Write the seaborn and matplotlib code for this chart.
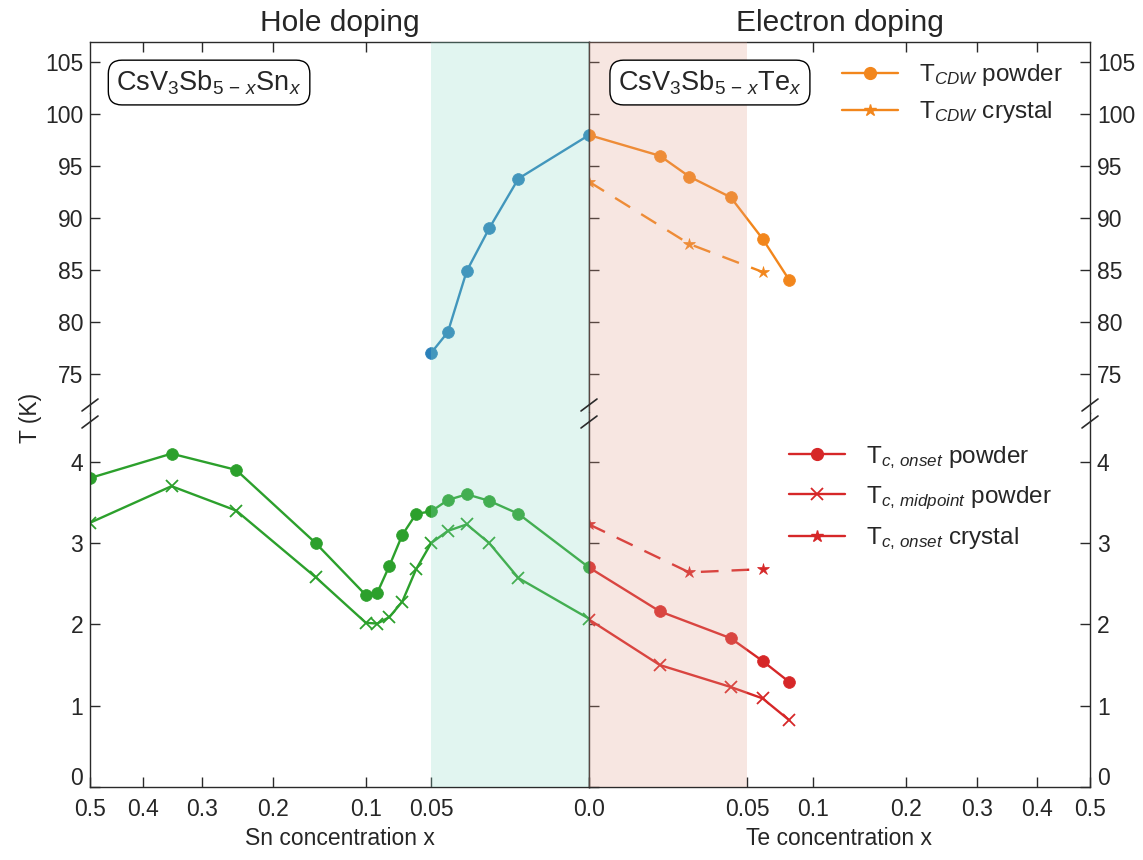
import numpy as np
import matplotlib
matplotlib.use("Agg")
import matplotlib.pyplot as plt
import matplotlib.transforms as mtransforms
import seaborn as sns
from matplotlib.lines import Line2D

# Hole doping (Sn)
sn_cdw_x = [0.05, 0.04, 0.03, 0.02, 0.01, 0.0]
sn_cdw_t = [77.0, 79.0, 84.9, 89.0, 93.8, 98.0]
sn_tc_x = [0.5, 0.35, 0.25, 0.15, 0.10, 0.09, 0.08, 0.07, 0.06, 0.05, 0.04, 0.03, 0.02, 0.01, 0.0]
sn_onset = [3.80, 4.10, 3.90, 3.00, 2.36, 2.39, 2.72, 3.10, 3.36, 3.39, 3.53, 3.60, 3.52, 3.36, 2.70]
sn_mid = [3.25, 3.70, 3.40, 2.58, 2.02, 2.01, 2.09, 2.28, 2.68, 3.00, 3.15, 3.23, 3.00, 2.57, 2.07]

# Electron doping (Te)
te_cdw_powder_x = [0.0, 0.01, 0.02, 0.04, 0.06, 0.08]
te_cdw_powder_t = [98.0, 96.0, 94.0, 92.0, 88.0, 84.0]
te_cdw_crystal_x = [0.0, 0.02, 0.06]
te_cdw_crystal_t = [93.5, 87.5, 84.8]
te_tc_x = [0.0, 0.01, 0.04, 0.06, 0.08]
te_onset = [2.70, 2.16, 1.83, 1.55, 1.29]
te_mid = [2.06, 1.50, 1.23, 1.09, 0.82]
te_crystal_x = [0.0, 0.02, 0.06]
te_crystal_onset = [3.23, 2.64, 2.68]

top_ticks = [75, 80, 85, 90, 95, 100, 105]
bottom_ticks = [0, 1, 2, 3, 4]

blue = "#2a80b9"
green = "#2ca02c"
orange = "#f2861c"
red = "#d62728"

sns.set_style("ticks")
plt.rcParams['font.family'] = ['Liberation Sans', 'DejaVu Sans']
plt.rcParams['mathtext.fontset'] = 'custom'
plt.rcParams['mathtext.rm'] = 'Liberation Sans'
plt.rcParams['mathtext.it'] = 'Liberation Sans:italic'
plt.rcParams['mathtext.bf'] = 'Liberation Sans:bold'


# square-root x axis on both sides
def fwd(x):
    return np.sign(x) * np.sqrt(np.abs(x))


def inv(y):
    return np.sign(y) * y ** 2


fig = plt.figure(figsize=(11.43, 8.6), dpi=100)
L, M, R = 90 / 1143, 589 / 1143, 1090 / 1143
T, J, B = 1 - 41.7 / 860, 1 - 413 / 860, 1 - 787 / 860
ax_tl = fig.add_axes([L, J, M - L, T - J])
ax_tr = fig.add_axes([M, J, R - M, T - J])
ax_bl = fig.add_axes([L, B, M - L, J - B])
ax_br = fig.add_axes([M, B, R - M, J - B])

spine_c = "#2a2a2a"
for ax in [ax_tl, ax_tr, ax_bl, ax_br]:
    ax.set_xscale('function', functions=(fwd, inv))
    for s in ax.spines.values():
        s.set_color(spine_c)
        s.set_linewidth(1.0)
    ax.tick_params(direction='in', length=7, width=1, color=spine_c,
                   labelsize=16.5, pad=5)

for ax in [ax_tl, ax_bl]:
    ax.set_xlim(0.5, 0)
    ax.axvspan(0.05, 0, color="#8bdbc7", alpha=0.25, lw=0, zorder=5)
for ax in [ax_tr, ax_br]:
    ax.set_xlim(0, 0.5)
    ax.axvspan(0, 0.05, color="#e39f8b", alpha=0.25, lw=0, zorder=5)

for ax in [ax_tl, ax_tr]:
    ax.set_ylim(71.2, 107.0)
    ax.set_yticks(top_ticks)
    ax.spines['bottom'].set_visible(False)
    ax.set_xticks([0.1, 0.2, 0.3, 0.4])
    ax.tick_params(axis='x', top=True, bottom=False, labelbottom=False, labeltop=False)
for ax in [ax_bl, ax_br]:
    ax.set_ylim(0, 4.6)
    ax.set_yticks(bottom_ticks)
    ax.spines['top'].set_visible(False)
    ax.tick_params(axis='x', pad=8)

ax_bl.set_xticks([0.5, 0.4, 0.3, 0.2, 0.1, 0.05])
ax_bl.set_xticklabels(['0.5', '0.4', '0.3', '0.2', '0.1', '0.05'])
ax_br.set_xticks([0.0, 0.05, 0.1, 0.2, 0.3, 0.4, 0.5])
ax_br.set_xticklabels(['0.0', '0.05', '0.1', '0.2', '0.3', '0.4', '0.5'])

for ax in [ax_tl, ax_bl]:
    ax.tick_params(axis='y', left=True, right=False)
for ax in [ax_tr, ax_br]:
    ax.tick_params(axis='y', left=True, right=True, labelleft=False, labelright=True)

# CDW lines
sns.lineplot(x=sn_cdw_x, y=sn_cdw_t, ax=ax_tl, color=blue, marker='o', markersize=8.5,
             markeredgecolor=blue, markeredgewidth=0.5, linewidth=1.7,
             estimator=None, sort=False, legend=False)
sns.lineplot(x=te_cdw_powder_x, y=te_cdw_powder_t, ax=ax_tr, color=orange, marker='o',
             markersize=8.5, markeredgecolor=orange, markeredgewidth=0.5, linewidth=1.7,
             estimator=None, sort=False, legend=False)
sns.lineplot(x=te_cdw_crystal_x, y=te_cdw_crystal_t, ax=ax_tr, color=orange, marker='*',
             markersize=9, markeredgecolor=orange, markeredgewidth=0.5, linewidth=1.7,
             linestyle=(0, (7.5, 5.5)), estimator=None, sort=False, legend=False)

# Tc lines
sns.lineplot(x=sn_tc_x, y=sn_onset, ax=ax_bl, color=green, marker='o', markersize=8.5,
             markeredgecolor=green, markeredgewidth=0.5, linewidth=1.7,
             estimator=None, sort=False, legend=False)
sns.lineplot(x=sn_tc_x, y=sn_mid, ax=ax_bl, color=green, marker='x', markersize=8,
             markeredgecolor=green, markeredgewidth=1.3, linewidth=1.7,
             estimator=None, sort=False, legend=False)
sns.lineplot(x=te_tc_x, y=te_onset, ax=ax_br, color=red, marker='o', markersize=8.5,
             markeredgecolor=red, markeredgewidth=0.5, linewidth=1.7,
             estimator=None, sort=False, legend=False)
sns.lineplot(x=te_tc_x, y=te_mid, ax=ax_br, color=red, marker='x', markersize=8,
             markeredgecolor=red, markeredgewidth=1.3, linewidth=1.7,
             estimator=None, sort=False, legend=False)
sns.lineplot(x=te_crystal_x, y=te_crystal_onset, ax=ax_br, color=red, marker='*',
             markersize=9, markeredgecolor=red, markeredgewidth=0.5, linewidth=1.7,
             linestyle=(0, (7.5, 5.5)), estimator=None, sort=False, legend=False)

for ax in [ax_tl, ax_tr, ax_bl, ax_br]:
    ax.set_xlabel('')
    ax.set_ylabel('')

# lift the "0" labels a little so they clear the x tick labels
lift = mtransforms.ScaledTranslation(0, 8 / 72, fig.dpi_scale_trans)
for ax in [ax_bl, ax_br]:
    t0 = ax.yaxis.get_major_ticks()[0]
    t0.label1.set_transform(t0.label1.get_transform() + lift)
    t0.label2.set_transform(t0.label2.get_transform() + lift)

# legends
h_cdw = [Line2D([], [], color=orange, marker='o', markersize=8.5, lw=1.7),
         Line2D([], [], color=orange, marker='*', markersize=9, lw=1.7)]
ax_tr.legend(h_cdw, [r'T$_{CDW}$ powder', r'T$_{CDW}$ crystal'], loc='upper left',
             bbox_to_anchor=(0.505, 0.945), frameon=False, borderaxespad=0, borderpad=0,
             handlelength=2.3, handletextpad=0.85, labelspacing=0.45, fontsize=17.5)
h_tc = [Line2D([], [], color=red, marker='o', markersize=8.5, lw=1.7),
        Line2D([], [], color=red, marker='x', markersize=8, mew=1.3, lw=1.7),
        Line2D([], [], color=red, marker='*', markersize=9, lw=1.7)]
ax_br.legend(h_tc, [r'T$_{c,\,onset}$ powder', r'T$_{c,\,midpoint}$ powder',
                    r'T$_{c,\,onset}$ crystal'], loc='upper left',
             bbox_to_anchor=(0.4, 0.917), frameon=False, borderaxespad=0, borderpad=0,
             handlelength=2.3, handletextpad=0.85, labelspacing=0.56, fontsize=17.5)

# formula boxes
box = dict(boxstyle='round,pad=0.3,rounding_size=0.5', fc='white', ec='black', lw=1.0)
ax_tl.text(0.053, 0.89, r'CsV$_3$Sb$_{5\,-\,x}$Sn$_x$', transform=ax_tl.transAxes,
           fontsize=19.5, va='center', ha='left', bbox=box, zorder=10)
ax_tr.text(0.058, 0.89, r'CsV$_3$Sb$_{5\,-\,x}$Te$_x$', transform=ax_tr.transAxes,
           fontsize=19.5, va='center', ha='left', bbox=box, zorder=10)

ax_tl.set_title('Hole doping', fontsize=21.5, pad=8)
ax_tr.set_title('Electron doping', fontsize=21.5, pad=8)
ax_bl.set_xlabel('Sn concentration x', fontsize=16.5, labelpad=4)
ax_br.set_xlabel('Te concentration x', fontsize=16.5, labelpad=4)
fig.text(30 / 1143, 1 - 418 / 860, 'T (K)', rotation=90, fontsize=16.5,
         ha='center', va='center')

# axis break marks
for px in [90, 589, 1090]:
    for py in [405, 422]:
        fig.add_artist(Line2D([(px - 8) / 1143, (px + 8) / 1143],
                              [1 - (py + 6) / 860, 1 - (py - 6) / 860],
                              color=spine_c, lw=1.2, transform=fig.transFigure))

fig.savefig('out.png', dpi=100)
